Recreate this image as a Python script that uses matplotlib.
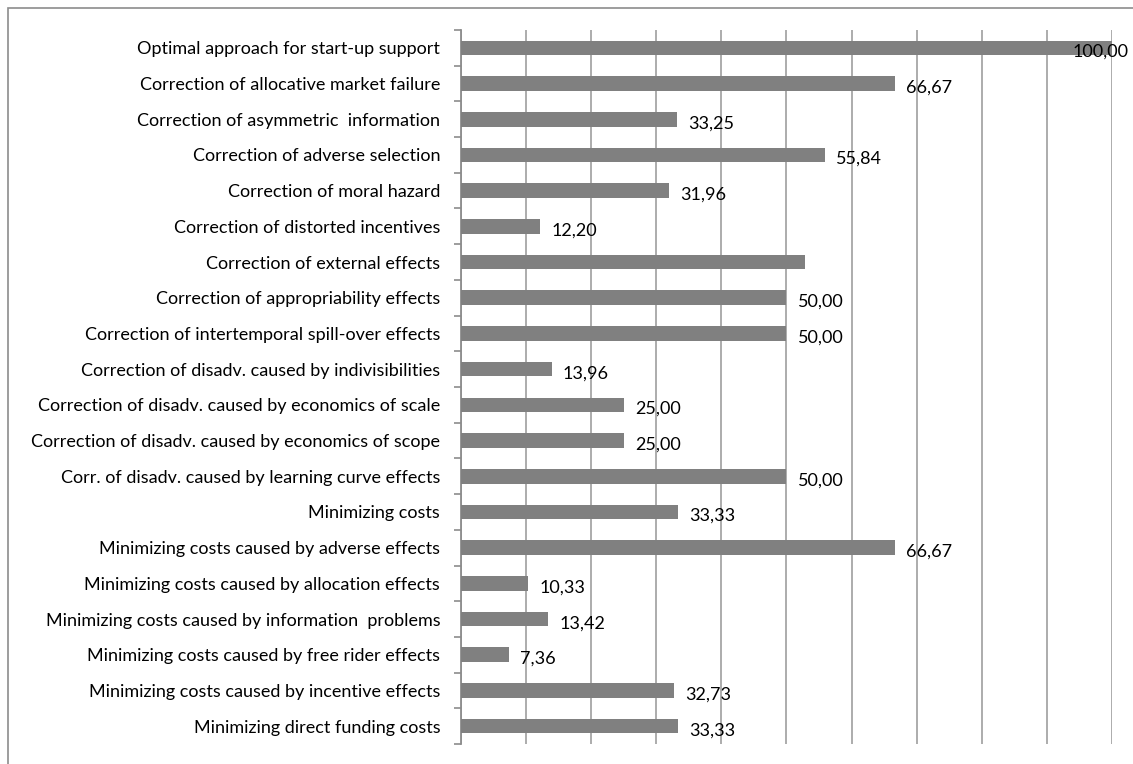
import matplotlib
matplotlib.use("Agg")
import matplotlib.pyplot as plt
from matplotlib.patches import Rectangle

# categories, top to bottom as in the chart
categories = [
    "Optimal approach for start-up support",
    "Correction of allocative market failure",
    "Correction of asymmetric  information",
    "Correction of adverse selection",
    "Correction of moral hazard",
    "Correction of distorted incentives",
    "Correction of external effects",
    "Correction of appropriability effects",
    "Correction of intertemporal spill-over effects",
    "Correction of disadv. caused by indivisibilities",
    "Correction of disadv. caused by economics of scale",
    "Correction of disadv. caused by economics of scope",
    "Corr. of disadv. caused by learning curve effects",
    "Minimizing costs",
    "Minimizing costs caused by adverse effects",
    "Minimizing costs caused by allocation effects",
    "Minimizing costs caused by information  problems",
    "Minimizing costs caused by free rider effects",
    "Minimizing costs caused by incentive effects",
    "Minimizing direct funding costs",
]
values = [100.00, 66.67, 33.25, 55.84, 31.96, 12.20, 52.8, 50.00, 50.00, 13.96,
          25.00, 25.00, 50.00, 33.33, 66.67, 10.33, 13.42, 7.36, 32.73, 33.33]
# the original chart shows no data label on this bar
no_label = ["Correction of external effects"]

plt.rcParams['font.family'] = ['Lato', 'DejaVu Sans']

fig = plt.figure(figsize=(11.33, 7.64), dpi=100)
ax = fig.add_axes([461/1133, 1 - 744/764, (1112 - 461)/1133, (744 - 30)/764])

# outer chart frame (only top and left edges visible in the crop)
fig.patches.append(Rectangle((8/1133, -0.1), 1.2, 1 - 8/764 + 0.1, transform=fig.transFigure,
                             fill=False, edgecolor='#8c8c8c', linewidth=1.2, zorder=0))

n = len(categories)
ypos = list(range(n))
ax.barh(ypos, values, height=0.41, color='#808080', zorder=3)

for y, v, c in zip(ypos, values, categories):
    if c in no_label:
        continue
    txt = f"{v:.2f}".replace('.', ',')
    if v > 90:
        ax.annotate(txt, (100, y), xytext=(12, -3), textcoords='offset points',
                    ha='right', va='center', fontsize=13, zorder=4)
    else:
        ax.annotate(txt, (v, y), xytext=(8, -3), textcoords='offset points',
                    ha='left', va='center', fontsize=13, zorder=4)

ax.set_xlim(0, 100)
ax.set_ylim(n - 0.5, -0.5)
ax.set_xticks(range(0, 101, 10))
ax.tick_params(axis='x', length=0, labelbottom=False)
ax.grid(axis='x', color='#a6a6a6', linewidth=1.3, zorder=0)

ax.set_yticks(ypos)
ax.set_yticklabels(categories, fontsize=13)
ax.set_yticks([i - 0.5 for i in range(n + 1)], minor=True)
ax.tick_params(axis='y', which='major', length=0, pad=15)
ax.tick_params(axis='y', which='minor', length=5, width=1.2, color='#8c8c8c')

for s in ['top', 'right', 'bottom']:
    ax.spines[s].set_visible(False)
ax.spines['left'].set_color('#8c8c8c')
ax.spines['left'].set_linewidth(1.3)

fig.savefig("out.png", dpi=100)
